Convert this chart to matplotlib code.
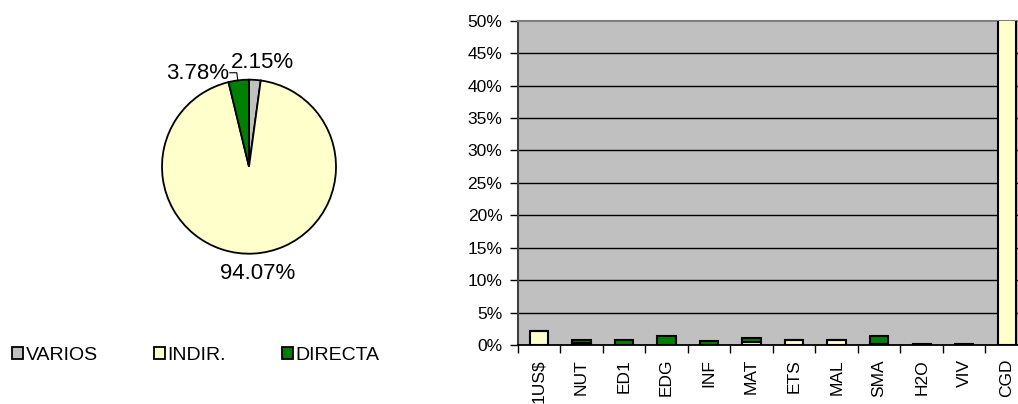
import matplotlib
matplotlib.use("Agg")
import matplotlib.pyplot as plt
from matplotlib.ticker import FixedLocator, PercentFormatter

plt.rcParams['font.family'] = ['Liberation Sans', 'DejaVu Sans']

# ---- data ----
pie_labels = ["VARIOS", "INDIR.", "DIRECTA"]
pie_values = [2.15, 94.07, 3.78]
pie_colors = ["#C0C0C0", "#FFFFCC", "#008000"]

categories = ["1US$", "NUT", "ED1", "EDG", "INF", "MAT", "ETS", "MAL", "SMA", "H2O", "VIV", "CGD"]
indir = [2.2, 0.25, 0.05, 0.0, 0.05, 0.5, 0.75, 0.75, 0.1, 0.05, 0.05, 88.0]
directa = [0.0, 0.5, 0.7, 1.4, 0.6, 0.55, 0.0, 0.0, 1.3, 0.15, 0.15, 0.0]
yticks = [0, 5, 10, 15, 20, 25, 30, 35, 40, 45, 50]

W, H = 1018, 404
fig = plt.figure(figsize=(W / 100, H / 100), dpi=100)
FS = 12.5
FS_PIE = 16
FS_LEG = 14

# ---- pie ----
cx, cy, r = 249, 166.7, 87
axp = fig.add_axes([(cx - r) / W, (H - cy - r) / H, 2 * r / W, 2 * r / H])
wedges, _ = axp.pie(pie_values, colors=pie_colors, startangle=90, counterclock=False,
                    wedgeprops=dict(edgecolor="black", linewidth=1.3))
for w in wedges:
    w.set_clip_on(False)
axp.set_xlim(-1, 1)
axp.set_ylim(-1, 1)
axp.set_aspect("equal")
axp.axis("off")
axp.text(0.15, 1.20, f"{pie_values[0]:.2f}%", ha="center", va="center", fontsize=FS_PIE, clip_on=False)
axp.text(-0.59, 1.07, f"{pie_values[2]:.2f}%", ha="center", va="center", fontsize=FS_PIE, clip_on=False)
axp.text(0.10, -1.23, f"{pie_values[1]:.2f}%", ha="center", va="center", fontsize=FS_PIE, clip_on=False)
axp.plot([-0.22, -0.14, -0.13], [1.08, 1.08, 1.0], color="black", lw=0.8, clip_on=False)

leg = axp.legend(wedges, pie_labels, loc="center left", bbox_to_anchor=(12 / W, 1 - 355 / H),
                 bbox_transform=fig.transFigure, ncol=3, frameon=False, fontsize=FS_LEG,
                 handlelength=0.57, handleheight=0.57, handletextpad=0.12,
                 columnspacing=2.9, borderpad=0, borderaxespad=0)

# ---- bar chart ----
left, right = 517.7, 1028
bottom, top = 345, 20.7
axb = fig.add_axes([left / W, (H - bottom) / H, (right - left) / W, (bottom - top) / H])
axb.set_facecolor("#C0C0C0")
x = list(range(len(categories)))
axb.bar(x, indir, width=0.43, color="#FFFFCC", edgecolor="black", linewidth=1.5, zorder=3)
axb.bar(x, directa, bottom=indir, width=0.43, color="#008000", edgecolor="black", linewidth=1.5, zorder=3)
axb.set_xlim(-0.5, len(categories) - 0.5)
axb.set_ylim(0, 50)
axb.yaxis.set_major_locator(FixedLocator(yticks))
axb.yaxis.set_major_formatter(PercentFormatter(decimals=0))
for yv in yticks[1:-1]:
    axb.axhline(yv, color="black", lw=1.0, zorder=1)
axb.set_xticks(x)
axb.set_xticklabels(categories, rotation=90, fontsize=FS)
axb.set_xticks([i - 0.5 for i in range(len(categories) + 1)], minor=True)
axb.tick_params(axis="x", which="major", length=0, pad=10)
axb.tick_params(axis="x", which="minor", length=6, width=1.0, direction="out")
axb.tick_params(axis="y", length=6, width=1.0, direction="out", labelsize=FS, pad=5)
axb.spines["top"].set_color("#808080")
axb.spines["top"].set_linewidth(1.5)
axb.spines["left"].set_color("#404040")
axb.spines["left"].set_linewidth(1.5)
axb.spines["bottom"].set_color("black")
axb.spines["bottom"].set_linewidth(1.3)
axb.spines["right"].set_visible(False)

fig.savefig("out.png", dpi=100)
